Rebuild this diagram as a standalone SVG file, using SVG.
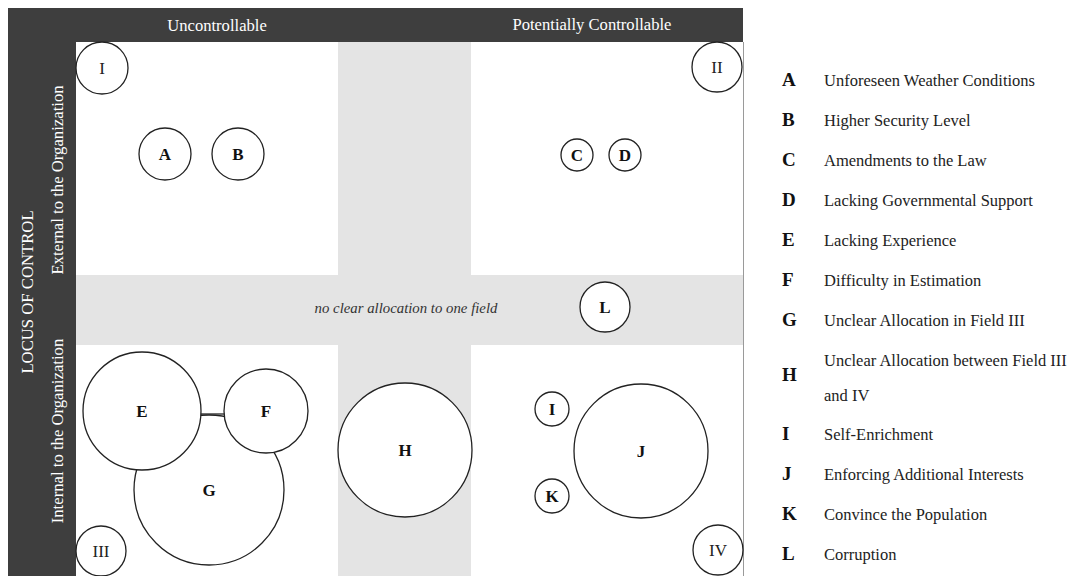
<svg xmlns="http://www.w3.org/2000/svg" width="1070" height="576" viewBox="0 0 1070 576">
<style>
.hdr{font-family:"Liberation Serif",serif;font-size:16.6px;fill:#ffffff;text-anchor:middle}
.side{font-family:"Liberation Serif",serif;font-size:16.7px;fill:#ffffff;text-anchor:middle}
.c{fill:#ffffff;stroke:#222222;stroke-width:1.3}
.lb{font-family:"Liberation Serif",serif;font-size:17px;font-weight:bold;fill:#111111;text-anchor:middle}
.rn{font-family:"Liberation Serif",serif;font-size:17px;fill:#222222;text-anchor:middle}
.lk{font-family:"Liberation Serif",serif;font-size:19px;font-weight:bold;fill:#111111}
.lt{font-family:"Liberation Serif",serif;font-size:16.5px;fill:#222222}
</style>
<rect x="0" y="0" width="1070" height="576" fill="#ffffff"/>
<g id="frame">
<rect x="8" y="8" width="735" height="568" fill="#3e3e3e"/>
<rect x="76" y="42" width="667" height="534" fill="#e4e4e4"/>
<rect x="76" y="42" width="262" height="233" fill="#ffffff"/>
<rect x="471" y="42" width="272" height="233" fill="#ffffff"/>
<rect x="76" y="345" width="262" height="231" fill="#ffffff"/>
<rect x="471" y="345" width="272" height="231" fill="#ffffff"/>
<line x1="743.5" y1="42" x2="743.5" y2="576" stroke="#9a9a9a" stroke-width="1"/>
<text class="hdr" x="217" y="31">Uncontrollable</text>
<text class="hdr" x="592" y="30">Potentially Controllable</text>
<text class="side" transform="translate(33,292) rotate(-90)">LOCUS OF CONTROL</text>
<text class="side" transform="translate(63,180) rotate(-90)">External to the Organization</text>
<text class="side" transform="translate(63,431) rotate(-90)">Internal to the Organization</text>
<text x="406" y="313" font-family="Liberation Serif, serif" font-size="14.8" font-style="italic" fill="#333333" text-anchor="middle">no clear allocation to one field</text>
</g>
<g id="connectors">
<line x1="200" y1="414" x2="225" y2="414" stroke="#222222" stroke-width="1.3"/>
</g>
<g id="n-I-field"><circle class="c" cx="102" cy="68" r="26"/><text class="rn" x="102" y="74">I</text></g>
<g id="n-II-field"><circle class="c" cx="717" cy="67" r="25"/><text class="rn" x="717" y="73">II</text></g>
<g id="n-III-field"><circle class="c" cx="101" cy="551" r="25"/><text class="rn" x="101" y="557">III</text></g>
<g id="n-IV-field"><circle class="c" cx="718" cy="550" r="25"/><text class="rn" x="718" y="556">IV</text></g>
<g id="n-A"><circle class="c" cx="165" cy="154" r="26"/><text class="lb" x="165" y="160">A</text></g>
<g id="n-B"><circle class="c" cx="238" cy="154" r="26"/><text class="lb" x="238" y="160">B</text></g>
<g id="n-C"><circle class="c" cx="577" cy="155" r="16"/><text class="lb" x="577" y="161">C</text></g>
<g id="n-D"><circle class="c" cx="625" cy="155" r="16"/><text class="lb" x="625" y="161">D</text></g>
<g id="n-L"><circle class="c" cx="605" cy="307" r="25"/><text class="lb" x="605" y="313">L</text></g>
<g id="n-G"><circle class="c" cx="209" cy="490" r="75"/><text class="lb" x="209" y="496">G</text></g>
<g id="n-E"><circle class="c" cx="142" cy="411" r="59"/><text class="lb" x="142" y="417">E</text></g>
<g id="n-F"><circle class="c" cx="266" cy="411" r="42"/><text class="lb" x="266" y="417">F</text></g>
<g id="n-H"><circle class="c" cx="405" cy="450" r="67"/><text class="lb" x="405" y="456">H</text></g>
<g id="n-I"><circle class="c" cx="552" cy="409" r="17"/><text class="lb" x="552" y="415">I</text></g>
<g id="n-K"><circle class="c" cx="552" cy="496" r="17"/><text class="lb" x="552" y="502">K</text></g>
<g id="n-J"><circle class="c" cx="641" cy="451" r="67"/><text class="lb" x="641" y="457">J</text></g>
<g id="legend">
<text class="lk" x="782" y="86">A</text><text class="lt" x="824" y="86">Unforeseen Weather Conditions</text>
<text class="lk" x="782" y="126">B</text><text class="lt" x="824" y="126">Higher Security Level</text>
<text class="lk" x="782" y="166">C</text><text class="lt" x="824" y="166">Amendments to the Law</text>
<text class="lk" x="782" y="206">D</text><text class="lt" x="824" y="206">Lacking Governmental Support</text>
<text class="lk" x="782" y="246">E</text><text class="lt" x="824" y="246">Lacking Experience</text>
<text class="lk" x="782" y="286">F</text><text class="lt" x="824" y="286">Difficulty in Estimation</text>
<text class="lk" x="782" y="326">G</text><text class="lt" x="824" y="326">Unclear Allocation in Field III</text>
<text class="lk" x="782" y="381">H</text><text class="lt" x="824" y="366">Unclear Allocation between Field III</text><text class="lt" x="824" y="401">and IV</text>
<text class="lk" x="782" y="440">I</text><text class="lt" x="824" y="440">Self-Enrichment</text>
<text class="lk" x="782" y="480">J</text><text class="lt" x="824" y="480">Enforcing Additional Interests</text>
<text class="lk" x="782" y="520">K</text><text class="lt" x="824" y="520">Convince the Population</text>
<text class="lk" x="782" y="560">L</text><text class="lt" x="824" y="560">Corruption</text>
</g>
</svg>
